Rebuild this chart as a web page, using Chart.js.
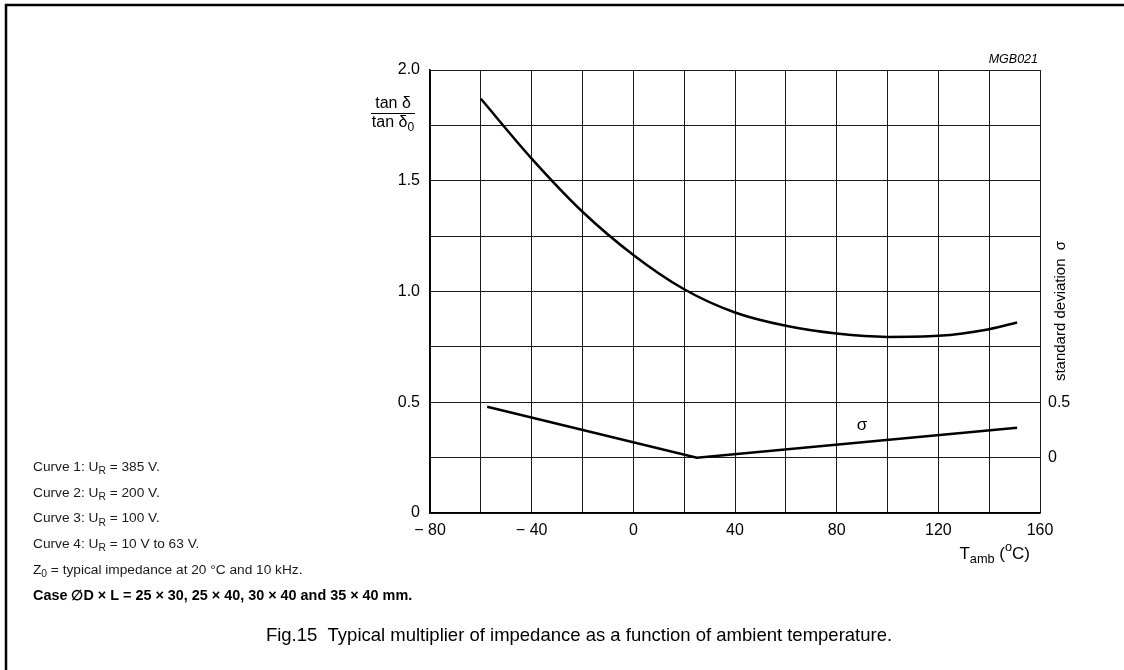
<!DOCTYPE html>
<html>
<head>
<meta charset="utf-8">
<script src="https://cdn.jsdelivr.net/npm/chart.js@4.4.0/dist/chart.umd.min.js"></script>
<style>
html, body { margin: 0; padding: 0; background: #fff; }
#wrap { width: 1124px; height: 670px; position: relative; }
</style>
</head>
<body>
<div id="wrap"><canvas id="chart" width="1124" height="670"></canvas></div>
<script>
// values
const xTickLabels = [-80, -40, 0, 40, 80, 120, 160];
const yTickLabels = [0, 0.5, 1.0, 1.5, 2.0];
const sigmaTicks = [0, 0.5];

const tempTan = [-60, -40, -20, 0, 20, 40, 60, 80, 100, 120, 140, 151];
const tanRatio = [1.87, 1.60, 1.36, 1.165, 1.01, 0.905, 0.845, 0.81, 0.795, 0.80, 0.83, 0.86];

const tempSigma = [-57.5, 25, 151];
const sigmaVals = [0.46, 0, 0.27];

const notes = [
    [['Curve 1: U', 0], ['R', -1], [' = 385 V.', 0]],
    [['Curve 2: U', 0], ['R', -1], [' = 200 V.', 0]],
    [['Curve 3: U', 0], ['R', -1], [' = 100 V.', 0]],
    [['Curve 4: U', 0], ['R', -1], [' = 10 V to 63 V.', 0]],
    [['Z', 0], ['0', -1], [' = typical impedance at 20 \u00B0C and 10 kHz.', 0]]
];
const caseNote = 'Case \u2205D \u00D7 L = 25 \u00D7 30, 25 \u00D7 40, 30 \u00D7 40 and 35 \u00D7 40 mm.';
const caption = 'Fig.15  Typical multiplier of impedance as a function of ambient temperature.';

const FONT = '"Liberation Sans", Arial, sans-serif';

function drawRuns(ctx, x, y, runs, size, weight, align) {
    // runs: [text, shift] shift -1 = subscript, 1 = superscript
    const parts = runs.map(r => {
        const s = r[1] === 0 ? size : size * 0.75;
        ctx.font = weight + ' ' + s + 'px ' + FONT;
        return { t: r[0], s: s, sh: r[1], w: ctx.measureText(r[0]).width };
    });
    const total = parts.reduce((a, p) => a + p.w, 0);
    let cx = x;
    if (align === 'center') cx = x - total / 2;
    if (align === 'right') cx = x - total;
    ctx.textAlign = 'left';
    ctx.textBaseline = 'middle';
    parts.forEach(p => {
        ctx.font = weight + ' ' + p.s + 'px ' + FONT;
        let dy = 0;
        if (p.sh === -1) dy = size * 0.3;
        if (p.sh === 1) dy = -size * 0.38;
        ctx.fillText(p.t, cx, y + dy);
        cx += p.w;
    });
}

const extras = {
    id: 'extras',
    afterDraw(chart) {
        const ctx = chart.ctx;
        const xs = chart.scales.x, ys2 = chart.scales.y2;
        ctx.save();
        ctx.fillStyle = '#000';
        ctx.strokeStyle = '#000';

        // frame
        ctx.lineWidth = 2.5;
        ctx.beginPath();
        ctx.moveTo(6, 670);
        ctx.lineTo(6, 5);
        ctx.lineTo(1124, 5);
        ctx.stroke();

        // y axis fraction label
        drawRuns(ctx, 393, 104, [['tan \u03B4', 0]], 16, 'normal', 'center');
        ctx.lineWidth = 1;
        ctx.beginPath();
        ctx.moveTo(371, 113.5);
        ctx.lineTo(415, 113.5);
        ctx.stroke();
        drawRuns(ctx, 393, 123, [['tan \u03B4', 0], ['0', -1]], 16, 'normal', 'center');

        // x axis title
        drawRuns(ctx, 1030, 554, [['T', 0], ['amb', -1], [' (', 0], ['o', 1], ['C)', 0]], 17, 'normal', 'right');

        // right axis title
        ctx.save();
        ctx.translate(1061, 311);
        ctx.rotate(-Math.PI / 2);
        drawRuns(ctx, 0, 0, [['standard deviation  \u03C3', 0]], 15, 'normal', 'center');
        ctx.restore();

        // figure code
        ctx.font = 'italic 12.5px ' + FONT;
        ctx.textAlign = 'right';
        ctx.textBaseline = 'middle';
        ctx.fillText('MGB021', 1038, 60);

        // sigma curve label
        ctx.font = '17px ' + FONT;
        ctx.textAlign = 'center';
        ctx.fillText('\u03C3', xs.getPixelForValue(90), ys2.getPixelForValue(0.29));

        // notes
        ctx.fillStyle = '#1a1a1a';
        notes.forEach((n, i) => drawRuns(ctx, 33, 467 + i * 25.8, n, 13.7, 'normal', 'left'));
        ctx.fillStyle = '#000';
        drawRuns(ctx, 33, 596, [[caseNote, 0]], 14.4, 'bold', 'left');

        // caption
        ctx.font = '18.5px ' + FONT;
        ctx.textAlign = 'center';
        ctx.fillText(caption, 579, 636);
        ctx.restore();
    }
};

const ctx = document.getElementById('chart').getContext('2d');
new Chart(ctx, {
    type: 'line',
    data: {
        datasets: [
            {
                data: tempTan.map((t, i) => ({ x: t, y: tanRatio[i] })),
                yAxisID: 'y',
                borderColor: '#000',
                borderWidth: 2.5,
                pointRadius: 0,
                fill: false,
                cubicInterpolationMode: 'monotone'
            },
            {
                data: tempSigma.map((t, i) => ({ x: t, y: sigmaVals[i] })),
                yAxisID: 'y2',
                borderColor: '#000',
                borderWidth: 2.5,
                pointRadius: 0,
                fill: false,
                tension: 0
            }
        ]
    },
    options: {
        responsive: false,
        animation: false,
        layout: { padding: { top: 70, left: 0, right: 0, bottom: 0 } },
        plugins: { legend: { display: false }, tooltip: { enabled: false } },
        scales: {
            x: {
                type: 'linear',
                min: -80,
                max: 160,
                afterFit: s => { s.height = 157; },
                afterBuildTicks: s => { s.ticks = []; for (let v = -80; v <= 160; v += 20) s.ticks.push({ value: v }); },
                grid: { color: '#1a1a1a', lineWidth: 1, drawTicks: false },
                border: { color: '#000', width: 1.5 },
                ticks: {
                    padding: 8,
                    autoSkip: false,
                    maxRotation: 0,
                    color: '#000',
                    font: { family: FONT, size: 16 },
                    callback: v => xTickLabels.includes(v) ? (v < 0 ? '\u2212 ' + Math.abs(v) : String(v)) : ''
                }
            },
            y: {
                min: 0,
                max: 2,
                afterFit: s => { s.width = 430; },
                afterBuildTicks: s => { s.ticks = []; for (let v = 0; v <= 2.001; v += 0.25) s.ticks.push({ value: Math.round(v * 100) / 100 }); },
                grid: { color: '#1a1a1a', lineWidth: 1, drawTicks: false },
                border: { color: '#000', width: 1.5 },
                ticks: {
                    padding: 10,
                    color: '#000',
                    font: { family: FONT, size: 16 },
                    callback: v => yTickLabels.includes(v) ? (v === 0 ? '0' : v.toFixed(1)) : ''
                }
            },
            y2: {
                position: 'right',
                min: -0.5,
                max: 3.5,
                afterFit: s => { s.width = 84; },
                afterBuildTicks: s => { s.ticks = sigmaTicks.map(v => ({ value: v })); },
                grid: { display: false, drawTicks: false },
                border: { display: false },
                ticks: {
                    padding: 8,
                    color: '#000',
                    font: { family: FONT, size: 16 },
                    callback: v => v === 0 ? '0' : String(v)
                }
            }
        }
    },
    plugins: [extras]
});
</script>
</body>
</html>
